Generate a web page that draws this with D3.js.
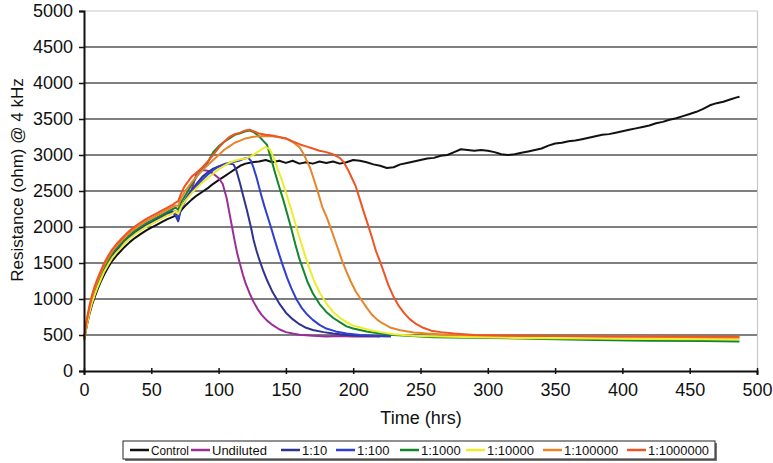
<!DOCTYPE html>
<html><head><meta charset="utf-8">
<script src="https://cdn.jsdelivr.net/npm/d3@7"></script>
<style>
body{margin:0;background:#fff;}
text{font-family:"Liberation Sans",Arial,Helvetica,sans-serif;fill:#111;}
.lgt{font-family:"Liberation Sans Narrow","Arial Narrow","Liberation Sans",Arial,sans-serif;}
</style></head>
<body><svg id="c" width="773" height="463"></svg>
<script>
const seriesNames = ["Control","Undiluted","1:10","1:100","1:1000","1:10000","1:100000","1:1000000"];
const xTicks = [0,50,100,150,200,250,300,350,400,450,500];
const yTicks = [0,500,1000,1500,2000,2500,3000,3500,4000,4500,5000];

const control = [[0,430],[2,620],[4,790],[6,920],[8,1030],[10,1130],[12,1220],[15,1340],[18,1440],[21,1530],[24,1600],[27,1660],[30,1720],[34,1790],[38,1850],[42,1900],[46,1950],[50,1990],[54,2030],[58,2070],[62,2110],[66,2140],[70,2180],[73,2250],[76,2310],[80,2380],[84,2440],[88,2490],[92,2540],[96,2600],[100,2650],[104,2700],[108,2750],[112,2800],[116,2850],[120,2880],[125,2900],[130,2910],[135,2930],[140,2900],[145,2920],[150,2890],[155,2920],[160,2880],[165,2900],[170,2880],[175,2910],[180,2890],[185,2910],[190,2880],[195,2900],[200,2930],[205,2920],[210,2900],[215,2870],[220,2850],[225,2820],[230,2830],[235,2870],[240,2890],[245,2910],[250,2930],[255,2950],[260,2960],[265,2990],[270,3000],[275,3040],[280,3080],[285,3070],[290,3060],[295,3070],[300,3060],[305,3040],[310,3010],[315,3000],[320,3010],[325,3030],[330,3050],[335,3070],[340,3090],[345,3130],[350,3160],[355,3170],[360,3190],[365,3200],[370,3220],[375,3240],[380,3260],[385,3280],[390,3290],[395,3310],[400,3330],[405,3350],[410,3370],[415,3390],[420,3410],[425,3440],[430,3460],[435,3490],[440,3510],[445,3540],[450,3570],[455,3600],[460,3640],[465,3690],[470,3720],[475,3740],[480,3770],[485,3800],[487,3810]];
const undiluted = [[0,440],[2,650],[4,830],[6,970],[8,1080],[10,1180],[12,1270],[15,1400],[18,1500],[21,1590],[24,1660],[27,1720],[30,1780],[34,1850],[38,1910],[42,1960],[46,2010],[50,2050],[54,2090],[58,2130],[62,2170],[66,2200],[68,2220],[70,2190],[72,2280],[74,2340],[76,2400],[80,2520],[84,2760],[88,2790],[92,2780],[96,2740],[100,2680],[103,2600],[106,2400],[108,2200],[110,2000],[112,1800],[114,1620],[116,1480],[118,1340],[120,1220],[123,1080],[126,960],[129,860],[132,780],[136,700],[140,640],[145,580],[150,540],[155,520],[160,505],[170,490],[180,480],[190,485],[200,480],[210,478],[220,480]];
const d10 = [[0,450],[2,670],[4,850],[6,990],[8,1100],[10,1200],[12,1290],[15,1410],[18,1520],[21,1610],[24,1680],[27,1740],[30,1800],[34,1870],[38,1930],[42,1980],[46,2030],[50,2070],[54,2110],[58,2150],[62,2190],[66,2220],[68,2160],[70,2080],[72,2250],[74,2330],[76,2400],[80,2510],[84,2610],[88,2700],[92,2760],[96,2810],[100,2840],[104,2860],[108,2880],[111,2870],[113,2800],[116,2600],[118,2450],[121,2236],[124,2000],[126,1820],[128,1680],[130,1560],[133,1400],[136,1260],[140,1100],[145,940],[150,810],[155,720],[160,650],[165,600],[170,570],[178,540],[185,520],[195,500],[205,490],[215,485],[228,480]];
const d100 = [[0,440],[2,640],[4,820],[6,960],[8,1070],[10,1170],[12,1260],[15,1390],[18,1490],[21,1580],[24,1650],[27,1710],[30,1780],[34,1850],[38,1910],[42,1960],[46,2010],[50,2050],[54,2090],[58,2130],[62,2170],[66,2200],[68,2170],[70,2110],[72,2260],[74,2320],[76,2390],[80,2490],[84,2580],[88,2660],[92,2730],[96,2790],[100,2840],[105,2880],[110,2900],[115,2920],[119,2950],[122,2960],[124,2920],[126,2820],[128,2700],[130,2560],[132,2420],[134,2290],[136,2170],[139,1990],[142,1800],[145,1620],[148,1450],[151,1290],[154,1150],[158,990],[162,870],[166,780],[170,710],[175,640],[180,590],[187,550],[195,520],[205,500],[215,490],[228,485]];
const d1000 = [[0,430],[2,660],[4,840],[6,990],[8,1110],[10,1210],[12,1300],[15,1430],[18,1540],[21,1630],[24,1700],[27,1760],[30,1820],[34,1890],[38,1950],[42,2000],[46,2050],[50,2090],[54,2130],[58,2170],[62,2210],[66,2250],[68,2270],[70,2240],[72,2340],[74,2400],[76,2460],[80,2590],[84,2710],[88,2800],[92,2900],[96,3040],[100,3120],[104,3180],[108,3230],[112,3280],[116,3300],[120,3330],[123,3340],[126,3320],[130,3260],[133,3200],[136,3140],[139,2950],[142,2750],[145,2560],[148,2380],[151,2180],[154,1980],[157,1760],[160,1560],[163,1400],[166,1240],[170,1080],[175,930],[180,820],[185,740],[190,680],[195,620],[200,590],[210,550],[220,520],[230,500],[240,490],[260,470],[300,460],[340,445],[380,430],[420,420],[460,415],[487,410]];
const d10000 = [[0,420],[2,630],[4,810],[6,950],[8,1060],[10,1160],[12,1250],[15,1380],[18,1480],[21,1570],[24,1640],[27,1700],[30,1770],[34,1840],[38,1900],[42,1950],[46,2000],[50,2040],[54,2080],[58,2120],[62,2160],[66,2190],[68,2220],[70,2180],[72,2270],[74,2330],[76,2380],[80,2470],[84,2550],[88,2620],[92,2680],[96,2740],[100,2800],[104,2850],[108,2890],[112,2920],[116,2940],[120,2950],[124,2980],[128,3030],[132,3080],[135,3110],[138,3080],[141,2960],[144,2800],[147,2650],[150,2480],[153,2300],[156,2110],[159,1920],[162,1740],[165,1560],[168,1400],[171,1250],[175,1090],[180,940],[185,820],[190,740],[195,680],[200,630],[206,600],[212,570],[220,540],[230,510],[245,490],[265,480],[290,470],[320,460],[350,455],[380,450],[420,445],[460,440],[487,440]];
const d100000 = [[0,440],[2,690],[4,880],[6,1030],[8,1150],[10,1250],[12,1340],[15,1470],[18,1570],[21,1660],[24,1730],[27,1790],[30,1850],[34,1920],[38,1980],[42,2030],[46,2080],[50,2120],[54,2160],[58,2200],[62,2240],[66,2280],[68,2300],[70,2290],[72,2400],[74,2460],[76,2520],[80,2620],[84,2710],[88,2790],[92,2860],[96,2930],[100,3000],[104,3070],[108,3120],[112,3170],[116,3200],[120,3230],[125,3250],[130,3260],[135,3265],[140,3260],[145,3245],[150,3230],[155,3180],[160,3110],[163,3020],[166,2900],[168,2820],[171,2650],[174,2470],[177,2280],[180,2150],[183,2000],[186,1840],[189,1680],[192,1520],[195,1380],[198,1250],[202,1100],[206,990],[210,880],[214,780],[218,710],[222,660],[228,600],[235,565],[245,535],[255,520],[270,505],[290,495],[320,490],[350,485],[380,480],[420,475],[460,470],[487,465]];
const d1000000 = [[0,450],[2,710],[4,900],[6,1060],[8,1180],[10,1280],[12,1370],[15,1500],[18,1600],[21,1690],[24,1760],[27,1820],[30,1880],[34,1950],[38,2010],[42,2060],[46,2110],[50,2150],[54,2190],[58,2230],[62,2270],[66,2310],[68,2340],[70,2360],[72,2460],[74,2540],[76,2600],[80,2700],[84,2760],[88,2830],[92,2910],[96,3000],[100,3100],[104,3180],[108,3250],[112,3290],[116,3310],[120,3340],[123,3350],[126,3330],[130,3300],[135,3280],[140,3270],[145,3250],[150,3230],[155,3190],[160,3150],[165,3120],[170,3090],[175,3060],[180,3040],[185,3010],[190,2960],[193,2900],[196,2800],[199,2680],[202,2560],[205,2380],[208,2200],[211,2030],[214,1850],[217,1660],[220,1520],[223,1360],[226,1200],[230,1030],[234,900],[238,800],[242,720],[247,650],[252,600],[258,560],[265,540],[275,520],[290,500],[320,490],[360,485],[400,480],[440,478],[487,475]];

const seriesData = [control, undiluted, d10, d100, d1000, d10000, d100000, d1000000];
const colors = ["#111111","#9a2e96","#2f3390","#2f3fd0","#13862b","#ecec2a","#e8842a","#ee5424"];

const svg = d3.select("#c");
const x = d3.scaleLinear().domain([0,500]).range([84,757]);
const y = d3.scaleLinear().domain([0,5000]).range([371,11]);

// plot frame (top/right light)
svg.append("line").attr("x1",84).attr("x2",757.5).attr("y1",11).attr("y2",11).attr("stroke","#c8c8c8").attr("stroke-width",1.2);
svg.append("line").attr("x1",757.5).attr("x2",757.5).attr("y1",11).attr("y2",371).attr("stroke","#c8c8c8").attr("stroke-width",1.2);

// gridlines
svg.append("g").selectAll("line").data(yTicks.filter(v=>v>0&&v<5000)).join("line")
  .attr("x1",x(0)).attr("x2",x(500)).attr("y1",d=>y(d)).attr("y2",d=>y(d))
  .attr("stroke","#555").attr("stroke-width",1.7);

// lines
const line = d3.line().x(d=>x(d[0])).y(d=>y(d[1]));
svg.append("g").selectAll("path").data(seriesData).join("path")
  .attr("d",line).attr("fill","none")
  .attr("stroke",(d,i)=>colors[i]).attr("stroke-width",2).attr("stroke-linejoin","round");

// axes
const yAxis = svg.append("g").attr("transform",`translate(${x(0)},0)`)
  .call(d3.axisLeft(y).tickValues(yTicks).tickFormat(d3.format("d")).tickSize(5).tickPadding(6));
yAxis.select(".domain").attr("stroke","#111").attr("stroke-width",2);
yAxis.selectAll(".tick line").attr("stroke","#111").attr("stroke-width",1.5);
yAxis.selectAll("text").style("font-size","18px").attr("fill","#111");

const xAxis = svg.append("g").attr("transform",`translate(0,${y(0)})`)
  .call(d3.axisBottom(x).tickValues(xTicks).tickFormat(d3.format("d")).tickSize(4).tickPadding(8));
xAxis.select(".domain").attr("stroke","#111").attr("stroke-width",2);
xAxis.selectAll(".tick line").attr("y1",-3).attr("y2",3).attr("stroke","#111").attr("stroke-width",1.5);
xAxis.selectAll("text").style("font-size","18px").attr("fill","#111");

// titles
svg.append("text").attr("x",421).attr("y",424).attr("text-anchor","middle").style("font-size","18px").text("Time (hrs)");
svg.append("text").attr("transform","translate(23,180) rotate(-90)").attr("text-anchor","middle").style("font-size","17px").text("Resistance (ohm) @ 4 kHz");

// legend
const lg = svg.append("g");
lg.append("rect").attr("x",125).attr("y",443).attr("width",592).attr("height",18).attr("fill","#777");
lg.append("rect").attr("x",123).attr("y",441).attr("width",592).attr("height",18).attr("fill","#fff").attr("stroke","#222").attr("stroke-width",1);
const legendX = [130,191,281,336,400,466,543,627];
const legendEnd = 711;
seriesNames.forEach((n,i)=>{
  lg.append("line").attr("x1",legendX[i]).attr("x2",legendX[i]+19).attr("y1",450).attr("y2",450)
    .attr("stroke",colors[i]).attr("stroke-width",2.5);
  const t = lg.append("text").attr("class","lgt").attr("x",legendX[i]+21).attr("y",454.5).style("font-size","13px").text(n);
  const avail = (i < seriesNames.length-1 ? legendX[i+1] : legendEnd) - (legendX[i]+21) - 2;
  const len = t.node().getComputedTextLength();
  if (len > avail) t.attr("textLength", avail).attr("lengthAdjust","spacingAndGlyphs");
});
</script></body></html>
